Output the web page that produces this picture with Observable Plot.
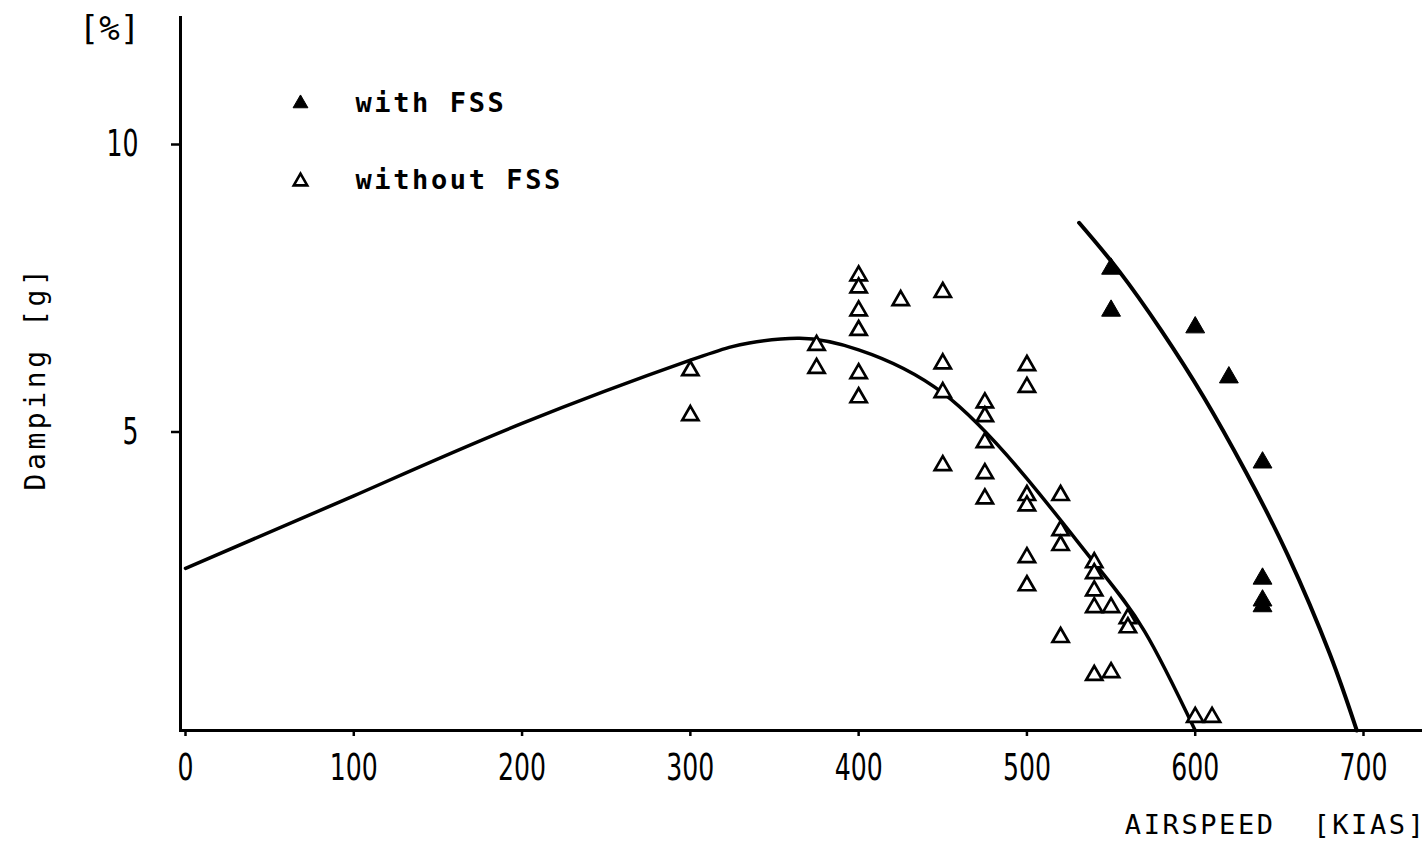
<!DOCTYPE html>
<html>
<head>
<meta charset="utf-8">
<script src="https://cdn.jsdelivr.net/npm/d3@7"></script>
<script src="https://cdn.jsdelivr.net/npm/@observablehq/plot@0.6"></script>
<style>
  html, body { margin: 0; padding: 0; background: #fff; }
  #chart { width: 1428px; height: 845px; overflow: hidden; }
  .spaced text { letter-spacing: 2.6px; }
  .spaced-wide text { letter-spacing: 3.6px; }
</style>
</head>
<body>
<div id="chart"></div>
<script>
// ---- data ----
// Damping [%] vs airspeed [KIAS], open triangles: without FSS
const withoutFssSpeed = [300, 300, 375, 375, 400, 400, 400, 400, 400, 400, 425,
  450, 450, 450, 450, 475, 475, 475, 475, 475, 500, 500, 500, 500, 500, 500,
  520, 520, 520, 520, 540, 540, 540, 540, 540, 550, 550, 560, 560, 600, 610];
const withoutFssDamping = [6.26, 5.48, 6.70, 6.30, 7.91, 7.70, 7.30, 6.96, 6.21, 5.79, 7.48,
  7.62, 6.38, 5.88, 4.61, 5.70, 5.46, 5.01, 4.47, 4.03, 6.35, 5.97, 4.09, 3.91, 3.01, 2.52,
  4.09, 3.48, 3.22, 1.62, 2.92, 2.73, 2.43, 2.14, 0.96, 2.14, 1.01, 1.95, 1.79, 0.23, 0.23];
// filled triangles: with FSS
const withFssSpeed = [550, 550, 600, 620, 640, 640, 640, 640];
const withFssDamping = [8.03, 7.30, 7.01, 6.14, 4.66, 2.64, 2.26, 2.16];
// faired curves
const curveWithoutSpeed = [0, 100, 200, 300, 335, 365, 400, 450, 500, 540, 570, 600];
const curveWithoutDamping = [2.82, 4.08, 5.34, 6.44, 6.74, 6.82, 6.62, 5.87, 4.38, 2.92, 1.72, 0.0];
const curveWithSpeed = [531, 555, 580, 605, 630, 655, 680, 696];
const curveWithDamping = [8.83, 7.98, 6.95, 5.80, 4.50, 3.05, 1.33, 0.0];
// axes
const xTicks = [0, 100, 200, 300, 400, 500, 600, 700];
const yTicks = [5, 10];
const legendLabels = ["with FSS", "without FSS"];
const xTitle = "AIRSPEED\u00a0\u00a0[KIAS]";
const yTitle = "Damping [g]";
const unitLabel = "[%]";

// ---- build tables ----
const withoutPts = withoutFssSpeed.map((s, i) => ({speed: s, damping: withoutFssDamping[i]}));
const withPts = withFssSpeed.map((s, i) => ({speed: s, damping: withFssDamping[i]}));
const curveWithout = curveWithoutSpeed.map((s, i) => ({speed: s, damping: curveWithoutDamping[i]}));
const curveWith = curveWithSpeed.map((s, i) => ({speed: s, damping: curveWithDamping[i]}));

const mono = "'DejaVu Sans Mono', 'Liberation Mono', monospace";
const sans = "'DejaVu Sans', 'Liberation Sans', sans-serif";

const chart = Plot.plot({
  width: 1428,
  height: 845,
  marginLeft: 180,
  marginRight: 8,
  marginTop: 17,
  marginBottom: 115,
  x: {domain: [0, 700], range: [185, 1363]},
  y: {domain: [0, 10], range: [730, 155]},
  style: {background: "#fff", color: "#000", fontFamily: mono},
  marks: [
    Plot.frame({anchor: "left", stroke: "#000", strokeWidth: 3}),
    Plot.frame({anchor: "bottom", stroke: "#000", strokeWidth: 3}),
    Plot.axisX({ticks: xTicks, tickSize: 6, tickPadding: 17, strokeWidth: 2.5,
      tickFormat: d => String(d), fontSize: 37, fontFamily: sans, label: null}),
    Plot.axisY({ticks: yTicks, tickSize: 9, tickPadding: 33, strokeWidth: 2.5, dy: -11,
      tickFormat: d => String(d), fontSize: 37, fontFamily: sans, label: null}),
    Plot.line(curveWithout, {x: "speed", y: "damping", curve: "natural", stroke: "#000", strokeWidth: 3.5}),
    Plot.line(curveWith, {x: "speed", y: "damping", curve: "natural", stroke: "#000", strokeWidth: 4}),
    Plot.dot(withoutPts, {x: "speed", y: "damping", symbol: "triangle", r: 6, fill: "#fff", stroke: "#000", strokeWidth: 2.7}),
    Plot.dot(withPts, {x: "speed", y: "damping", symbol: "triangle", r: 7, fill: "#000", stroke: "#000", strokeWidth: 1}),
    // legend
    Plot.dot([legendLabels[0]], {frameAnchor: "top-left", dx: 120, dy: 86, symbol: "triangle", r: 5.5, fill: "#000", stroke: "#000", strokeWidth: 1}),
    Plot.dot([legendLabels[1]], {frameAnchor: "top-left", dx: 120, dy: 164, symbol: "triangle", r: 5, fill: "#fff", stroke: "#000", strokeWidth: 2.6}),
    Plot.text([legendLabels[0]], {text: d => d, frameAnchor: "top-left", dx: 175, dy: 86, textAnchor: "start", lineAnchor: "middle", fontSize: 27, fontWeight: "bold", fontFamily: mono, className: "spaced"}),
    Plot.text([legendLabels[1]], {text: d => d, frameAnchor: "top-left", dx: 175, dy: 163, textAnchor: "start", lineAnchor: "middle", fontSize: 27, fontWeight: "bold", fontFamily: mono, className: "spaced"}),
    // titles
    Plot.text([xTitle], {text: d => d, frameAnchor: "bottom-right", dx: 6, dy: 95, textAnchor: "end", lineAnchor: "middle", fontSize: 27, fontFamily: mono, className: "spaced"}),
    Plot.text([unitLabel], {text: d => d, frameAnchor: "top-left", dx: -71, dy: 12, textAnchor: "middle", lineAnchor: "middle", fontSize: 34, fontFamily: mono}),
    Plot.text([yTitle], {text: d => d, frameAnchor: "left", dx: -144, dy: 4, rotate: -90, textAnchor: "middle", lineAnchor: "middle", fontSize: 28, fontFamily: mono, className: "spaced-wide"})
  ]
});
// condensed typewriter-style digits on the tick labels
d3.select(chart).selectAll('[aria-label$="tick label"] text').each(function() {
  const t = d3.select(this);
  const n = t.text().length;
  t.attr("textLength", 16 * n).attr("lengthAdjust", "spacingAndGlyphs");
});
document.getElementById("chart").appendChild(chart);
</script>
</body>
</html>
